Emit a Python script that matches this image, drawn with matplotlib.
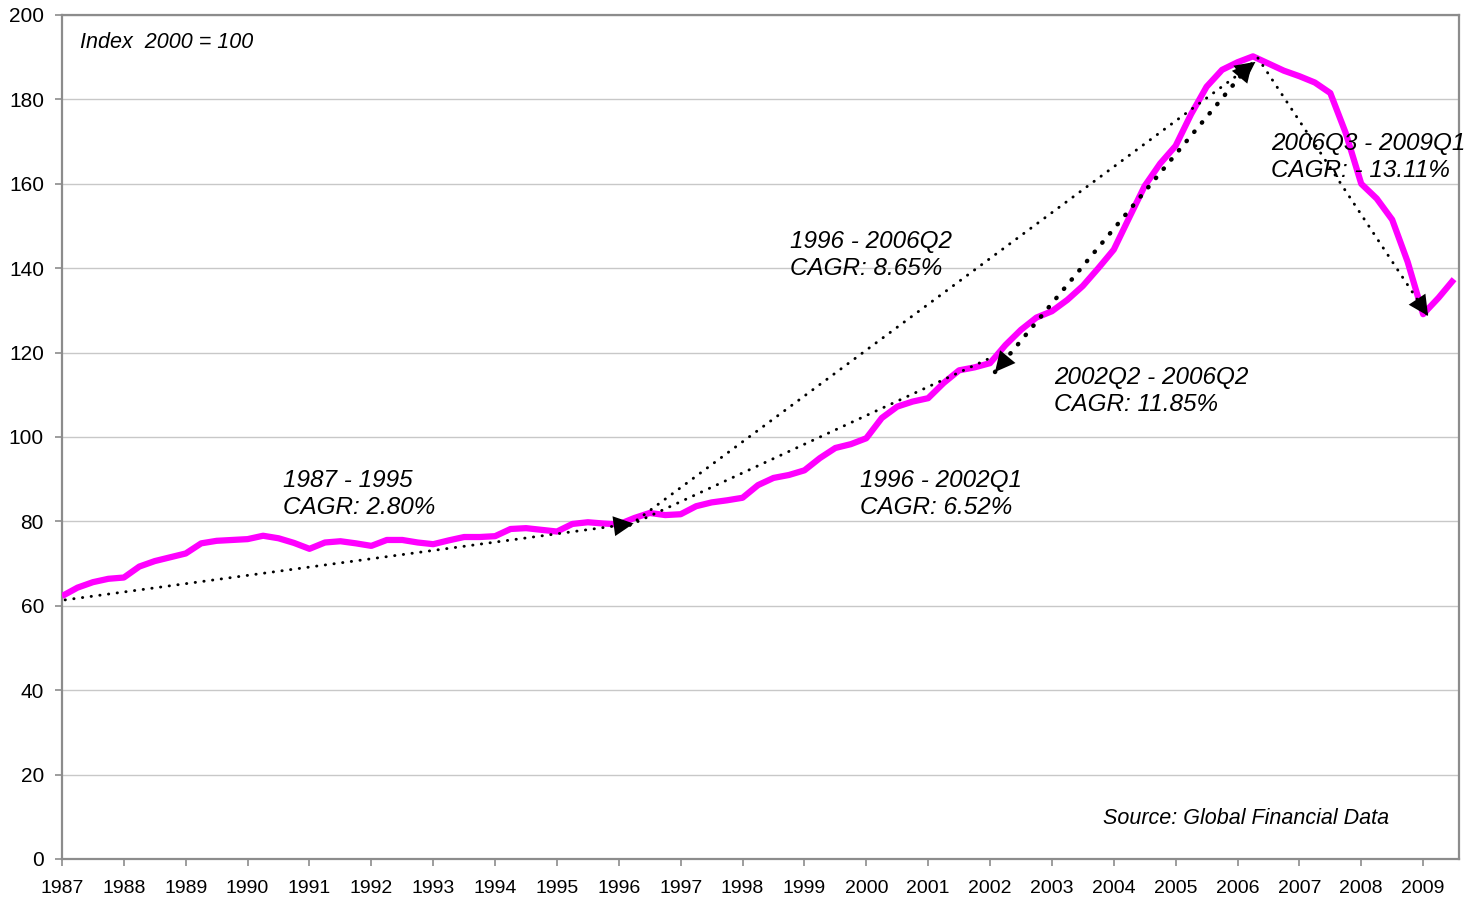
import matplotlib
matplotlib.use('Agg')
import matplotlib.pyplot as plt
import numpy as np

plt.rcParams['font.family'] = ['Liberation Sans', 'DejaVu Sans']

# quarterly index values, 2000 = 100, 1987Q1 .. 2009Q3
index_values = [
    62.3, 64.3, 65.6, 66.4,      # 1987
    66.7, 69.3, 70.6, 71.5,      # 1988
    72.4, 74.8, 75.4, 75.6,      # 1989
    75.8, 76.6, 76.0, 74.9,      # 1990
    73.5, 75.0, 75.3, 74.8,      # 1991
    74.2, 75.6, 75.6, 75.0,      # 1992
    74.6, 75.5, 76.3, 76.3,      # 1993
    76.5, 78.2, 78.4, 78.0,      # 1994
    77.6, 79.4, 79.8, 79.5,      # 1995
    79.3, 80.8, 82.0, 81.5,      # 1996
    81.7, 83.6, 84.5, 85.0,      # 1997
    85.6, 88.6, 90.3, 91.0,      # 1998
    92.1, 95.0, 97.4, 98.3,      # 1999
    99.7, 104.5, 107.2, 108.4,   # 2000
    109.2, 112.8, 115.8, 116.5,  # 2001
    117.5, 121.8, 125.4, 128.3,  # 2002
    129.8, 132.5, 135.8, 140.0,  # 2003
    144.4, 152.0, 159.5, 164.8,  # 2004
    169.0, 176.5, 183.0, 187.0,  # 2005
    188.8, 190.2, 188.5, 186.8,  # 2006
    185.5, 184.0, 181.5, 172.0,  # 2007
    160.0, 156.5, 151.5, 141.5,  # 2008
    129.1, 133.0, 137.4,         # 2009
]
quarters = 1987 + np.arange(len(index_values)) / 4.0

year_ticks = list(range(1987, 2010))
value_ticks = list(range(0, 201, 20))

# CAGR arrows: (start year, start value, end year, end value)
arrow_A = (1987.05, 61.4, 1996.24, 79.5)    # 1987 - 1995
arrow_B = (1996.18, 79.1, 2006.29, 188.9)   # 1996 - 2006Q2
arrow_C = (1996.18, 79.1, 2002.00, 118.7)   # 1996 - 2002Q1
arrow_D = (2002.08, 115.4, 2006.24, 188.9)  # 2002Q2 - 2006Q2
arrow_E = (2006.33, 189.8, 2009.08, 128.7)  # 2006Q3 - 2009Q1

labels = [
    ('1987 - 1995\nCAGR: 2.80%', 283, 494),
    ('1996 - 2006Q2\nCAGR: 8.65%', 790, 255),
    ('1996 - 2002Q1\nCAGR: 6.52%', 860, 494),
    ('2002Q2 - 2006Q2\nCAGR: 11.85%', 1054, 391),
    ('2006Q3 - 2009Q1\nCAGR: - 13.11%', 1271, 157),
]

W, H = 1474, 901
fig = plt.figure(figsize=(W / 100, H / 100), dpi=100)
ax = fig.add_axes([62 / W, 1 - 859 / H, (1459 - 62) / W, (859 - 15) / H])

ax.plot(quarters, index_values, color='#ff00ff', lw=4.5, solid_capstyle='butt',
        solid_joinstyle='round', zorder=3)


def dotted(a, lw, gap):
    ax.plot([a[0], a[2]], [a[1], a[3]], color='black', lw=lw,
            dashes=(0.1, gap), dash_capstyle='round', zorder=4)


def head(a, reverse=False):
    x0, y0, x1, y1 = a
    if reverse:
        x0, y0, x1, y1 = x1, y1, x0, y0
    ax.annotate('', xy=(x1, y1), xytext=(x0, y0),
                arrowprops=dict(arrowstyle='-|>,head_length=0.8,head_width=0.4',
                                color='black', lw=0, shrinkA=0, shrinkB=0,
                                mutation_scale=18), zorder=5)


dotted(arrow_A, 2.1, 2.9)
dotted(arrow_B, 2.1, 2.9)
dotted(arrow_C, 2.1, 2.9)
dotted(arrow_D, 3.2, 2.6)
dotted(arrow_E, 2.1, 2.9)
head(arrow_A)
head(arrow_B)
head(arrow_D)
head(arrow_D, reverse=True)
head(arrow_E)

ax.set_xlim(1987, 2009.58)
ax.set_ylim(0, 200)
ax.set_xticks(year_ticks)
ax.set_xticklabels([str(y) for y in year_ticks], fontsize=14)
ax.set_yticks(value_ticks)
ax.set_yticklabels([str(v) for v in value_ticks], fontsize=15)
ax.grid(axis='y', color='#c8c8c8', lw=1)
ax.set_axisbelow(True)
for s in ax.spines.values():
    s.set_color('#8c8c8c')
    s.set_linewidth(1.6)
ax.tick_params(axis='x', direction='out', length=5, width=1.2, color='#8c8c8c', pad=10)
ax.tick_params(axis='y', direction='out', length=5, width=1.2, color='#8c8c8c', pad=8)

for txt, px, py in labels:
    fig.text(px / W, 1 - py / H, txt, fontsize=17.5, style='italic',
             ha='left', va='center', linespacing=1.2)

fig.text(80 / W, 1 - 42 / H, 'Index  2000 = 100', fontsize=15.5, style='italic',
         ha='left', va='center')
fig.text(1103 / W, 1 - 818 / H, 'Source: Global Financial Data', fontsize=15.5,
         style='italic', ha='left', va='center')

fig.savefig('out.png', dpi=100)
